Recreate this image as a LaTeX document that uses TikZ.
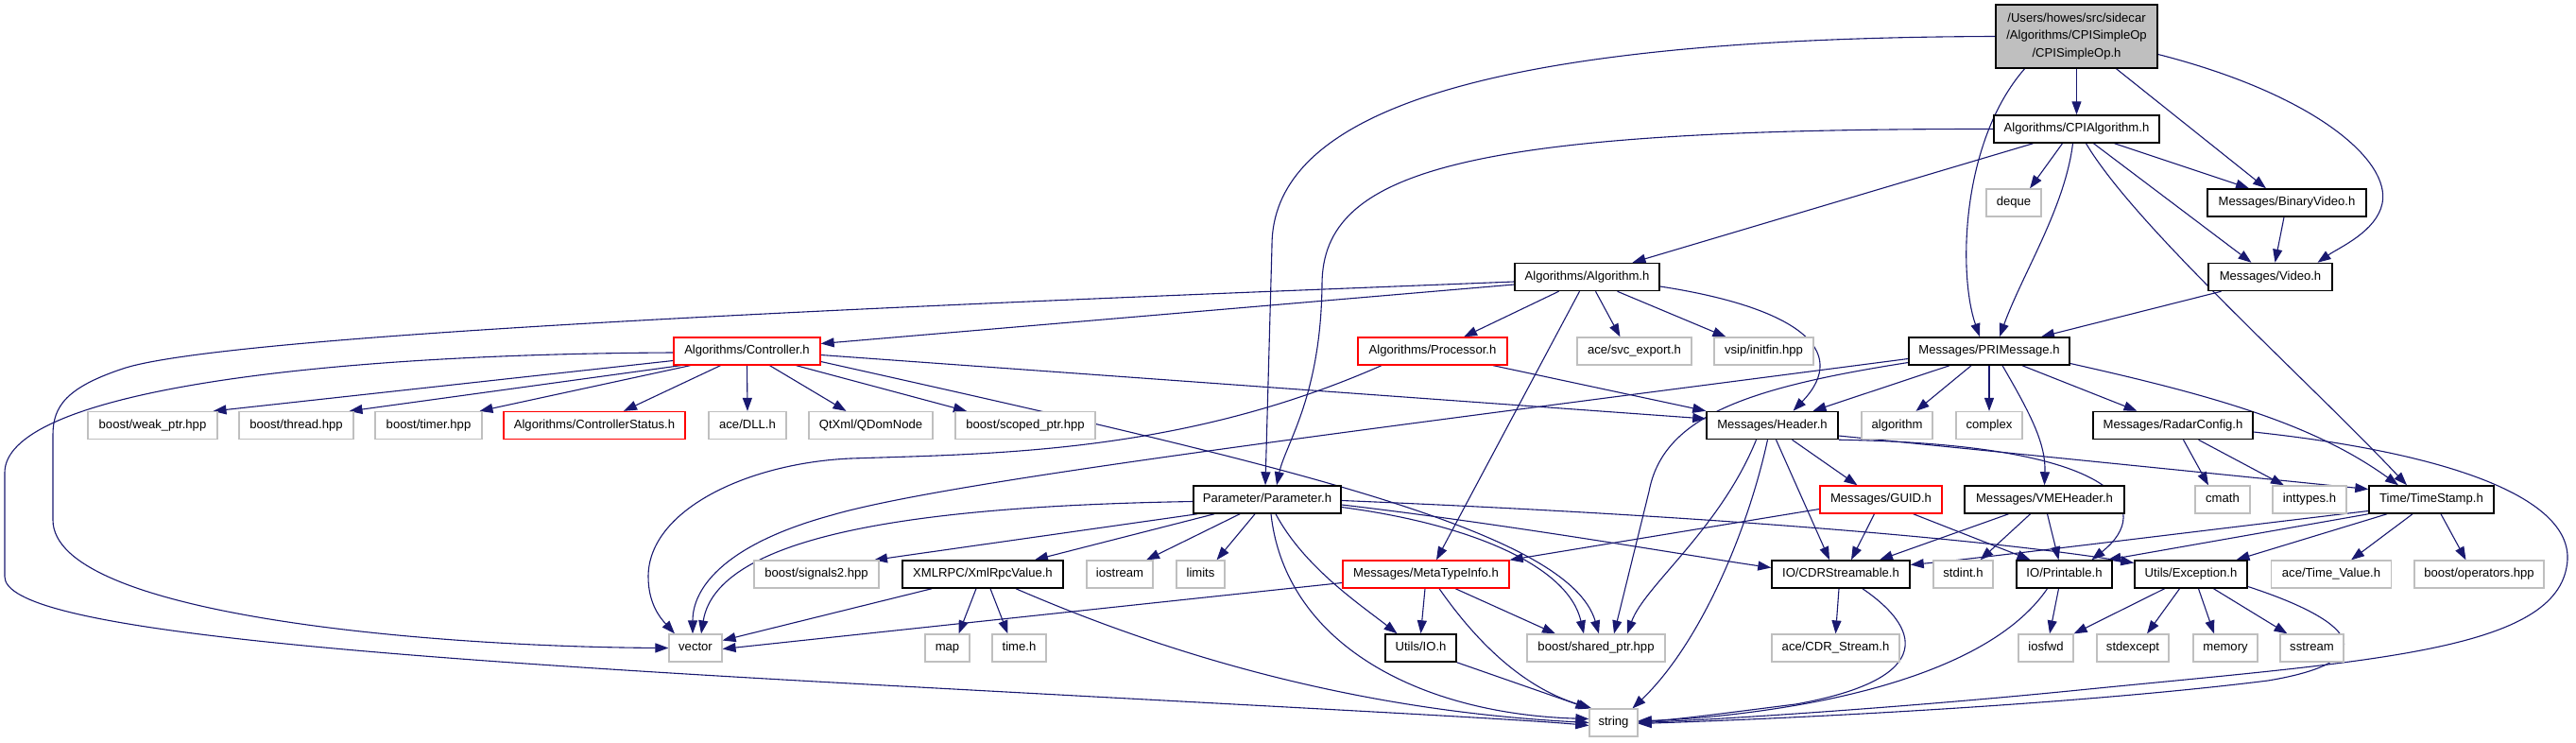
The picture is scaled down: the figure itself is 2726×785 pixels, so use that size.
\documentclass[tikz,border=0pt]{standalone}
\usepackage{fontspec}
\setmainfont{Liberation Sans}
\usetikzlibrary{arrows.meta}
\definecolor{edgecol}{HTML}{191970}
\definecolor{extgray}{HTML}{BFBFBF}
\definecolor{rootgray}{HTML}{BFBFBF}
\newcommand\nodefont{\fontsize{13.1}{18.3}\selectfont}
\pgfdeclarelayer{bg}
\pgfsetlayers{bg,main}
\tikzset{
  nd/.style={rectangle, inner sep=0pt, fill=white, font=\nodefont},
  sl/.style={nd, minimum height=29pt, text height=9.6pt, text depth=2.8pt},
  doc/.style={sl, draw=black, line width=1.5pt},
  ext/.style={sl, draw=extgray, line width=1.2pt},
  redn/.style={sl, draw=red, line width=1.3pt},
  bw/.style={minimum width=#1pt},
  e/.style={draw=edgecol, line width=1.1pt, -{Triangle[length=14pt,width=10pt]}}
}
\begin{document}
\begin{tikzpicture}[x=1pt,y=-1pt]
\path[use as bounding box] (0,0) rectangle (2726,785);
% nodes
\node[nd, draw=black, line width=1.5pt, fill=rootgray, minimum width=171pt, minimum height=67pt, align=center] (root) at (2197.5,38.5) {/Users/howes/src/sidecar\\/Algorithms/CPISimpleOp\\/CPISimpleOp.h};
\node[doc, bw=175] (cpialg) at (2197.5,136.5) {Algorithms/CPIAlgorithm.h};
\node[ext, bw=58] (deque) at (2131,214.5) {deque};
\node[doc, bw=168] (binvid) at (2420,214.5) {Messages/BinaryVideo.h};
\node[doc, bw=153] (alg) at (1679.5,293) {Algorithms/Algorithm.h};
\node[doc, bw=131] (video) at (2402.5,293) {Messages/Video.h};
\node[redn, bw=155] (ctrl) at (790.5,371.5) {Algorithms/Controller.h};
\node[redn, bw=158] (proc) at (1516,371.5) {Algorithms/Processor.h};
\node[ext, bw=121] (svc) at (1729.5,371.5) {ace/svc\_export.h};
\node[ext, bw=105] (initfin) at (1866.5,371.5) {vsip/initfin.hpp};
\node[doc, bw=170] (pri) at (2105,371.5) {Messages/PRIMessage.h};
\node[ext, bw=137] (weak) at (161.5,450) {boost/weak\_ptr.hpp};
\node[ext, bw=121] (thread) at (313.5,450) {boost/thread.hpp};
\node[ext, bw=113] (timer) at (453.5,450) {boost/timer.hpp};
\node[redn, bw=192] (cstat) at (629,450) {Algorithms/ControllerStatus.h};
\node[ext, bw=82] (dll) at (791,450) {ace/DLL.h};
\node[ext, bw=131] (qdom) at (921.5,450) {QtXml/QDomNode};
\node[ext, bw=148] (scoped) at (1085,450) {boost/scoped\_ptr.hpp};
\node[doc, bw=139] (header) at (1875.5,450) {Messages/Header.h};
\node[ext, bw=75] (algo) at (2007.5,450) {algorithm};
\node[ext, bw=70] (complex) at (2105,450) {complex};
\node[doc, bw=169] (radar) at (2299.5,450) {Messages/RadarConfig.h};
\node[doc, bw=156] (param) at (1341,528.5) {Parameter/Parameter.h};
\node[redn, bw=129] (guid) at (1990.5,528.5) {Messages/GUID.h};
\node[doc, bw=169] (vme) at (2163.5,528.5) {Messages/VMEHeader.h};
\node[ext, bw=58] (cmath) at (2352,528.5) {cmath};
\node[ext, bw=78] (inttypes) at (2444,528.5) {inttypes.h};
\node[doc, bw=132] (tstamp) at (2573,528.5) {Time/TimeStamp.h};
\node[ext, bw=132] (signals) at (864,607.5) {boost/signals2.hpp};
\node[doc, bw=170] (xml) at (1040,607.5) {XMLRPC/XmlRpcValue.h};
\node[ext, bw=70] (iostream) at (1185,607.5) {iostream};
\node[ext, bw=51] (limits) at (1270.5,607.5) {limits};
\node[redn, bw=176] (meta) at (1509,607.5) {Messages/MetaTypeInfo.h};
\node[doc, bw=146] (cdrs) at (1948,607.5) {IO/CDRStreamable.h};
\node[ext, bw=63] (stdint) at (2077.5,607.5) {stdint.h};
\node[doc, bw=101] (printable) at (2184.5,607.5) {IO/Printable.h};
\node[doc, bw=119] (exc) at (2318.5,607.5) {Utils/Exception.h};
\node[ext, bw=127] (tval) at (2467,607.5) {ace/Time\_Value.h};
\node[ext, bw=137] (ops) at (2623.5,607.5) {boost/operators.hpp};
\node[ext, bw=56] (vector) at (736,685.5) {vector};
\node[ext, bw=47] (map) at (1002.5,685.5) {map};
\node[ext, bw=57] (timeh) at (1078.5,685.5) {time.h};
\node[doc, bw=75] (io) at (1503.5,685.5) {Utils/IO.h};
\node[ext, bw=146] (shared) at (1689,685.5) {boost/shared\_ptr.hpp};
\node[ext, bw=135] (cdrstream) at (1942.5,685.5) {ace/CDR\_Stream.h};
\node[ext, bw=58] (iosfwd) at (2165,685.5) {iosfwd};
\node[ext, bw=76] (stdexcept) at (2257,685.5) {stdexcept};
\node[ext, bw=68] (memory) at (2355,685.5) {memory};
\node[ext, bw=67] (sstream) at (2446.5,685.5) {sstream};
\node[ext, bw=51] (string) at (1707.5,764.5) {string};
% edges
\begin{pgfonlayer}{bg}
\path[e] (root.south) -- (cpialg.north);
\path[e] (root.west) .. controls (1600,40) and (1346,110) .. (1346,260) -- ([xshift=-2pt]param.north);
\path[e] (cpialg.west) .. controls (1550,136) and (1400,180) .. (1399,300) .. controls (1398,420) and (1360,470) .. ([xshift=10pt]param.north);
\path[e] ([xshift=-55pt]root.south) .. controls (2075,150) and (2072,290) .. ([xshift=-10pt]pri.north);
\path[e] ([xshift=-4pt]cpialg.south) .. controls (2185,220) and (2140,290) .. ([xshift=11pt]pri.north);
\path[e] ([xshift=42pt]root.south) -- ([xshift=-22pt]binvid.north);
\path[e] ([yshift=-19pt]root.east) .. controls (2450,100) and (2530,170) .. (2521,215) .. controls (2515,245) and (2475,262) .. ([xshift=50pt]video.north);
\path[e] ([xshift=-15pt]cpialg.south) -- ([xshift=17pt]deque.north);
\path[e] ([xshift=40pt]cpialg.south) -- ([xshift=-40pt]binvid.north);
\path[e] ([xshift=18pt]cpialg.south) -- ([xshift=-20pt]video.north);
\path[e] ([xshift=10pt]cpialg.south) .. controls (2260,240) and (2440,400) .. ([xshift=-26pt]tstamp.north);
\path[e] ([xshift=-46pt]cpialg.south) -- ([xshift=48pt]alg.north);
\path[e] ([xshift=-3pt]binvid.south) -- ([xshift=5pt]video.north);
\path[e] ([xshift=-52pt]video.south) -- ([xshift=55pt]pri.north);
\path[e] ([yshift=-8pt]alg.west) -- ([yshift=8pt]ctrl.east);
\path[e] ([yshift=-5pt]alg.west) .. controls (1100,318) and (250,350) .. (130,390) .. controls (70,410) and (56,430) .. (56,460) -- (56,550) .. controls (56,650) and (450,684) .. (vector.west);
\path[e] ([yshift=-1.5pt]ctrl.west) .. controls (300,375) and (5,420) .. (5,500) -- (5,610) .. controls (5,660) and (300,690) .. (900,723) .. controls (1300,745) and (1600,760) .. ([yshift=-3pt]string.west);
\path[e] ([xshift=-30pt]alg.south) -- ([xshift=33pt]proc.north);
\path[e] ([xshift=-8pt]alg.south) -- ([xshift=11pt]meta.north);
\path[e] ([xshift=9pt]alg.south) -- ([xshift=-15pt]svc.north);
\path[e] ([xshift=32pt]alg.south) -- ([xshift=-40pt]initfin.north);
\path[e] ([yshift=-10pt]alg.east) .. controls (1900,325) and (1960,370) .. ([xshift=22pt]header.north);
\path[e] ([yshift=-10pt]ctrl.west) -- ([xshift=64pt]weak.north);
\path[e] ([xshift=-70pt]ctrl.south) -- ([xshift=56pt]thread.north);
\path[e] ([xshift=-60pt]ctrl.south) -- ([xshift=54pt]timer.north);
\path[e] ([xshift=-28pt]ctrl.south) -- ([xshift=31pt]cstat.north);
\path[e] (ctrl.south) -- (dll.north);
\path[e] ([xshift=24pt]ctrl.south) -- ([xshift=-26pt]qdom.north);
\path[e] ([xshift=52pt]ctrl.south) -- ([xshift=-62pt]scoped.north);
\path[e] ([yshift=-4pt]ctrl.east) -- ([yshift=7pt]header.west);
\path[e] ([yshift=-11pt]ctrl.east) .. controls (1350,490) and (1660,560) .. ([xshift=3pt]shared.north);
\path[e] ([xshift=-54pt]proc.south) .. controls (1250,480) and (1050,480) .. (900,485) .. controls (790,490) and (686,540) .. (686,610) .. controls (686,640) and (700,655) .. ([xshift=-22pt]vector.north);
\path[e] ([xshift=64pt]proc.south) -- (header.north west);
\path[e] ([yshift=-8pt]pri.west) .. controls (1400,460) and (1000,510) .. (880,545) .. controls (770,575) and (733,620) .. ([xshift=-3pt]vector.north);
\path[e] ([yshift=-2pt]param.west) .. controls (1000,535) and (760,560) .. ([xshift=6pt]vector.north);
\path[e] ([xshift=-54pt]xml.south) -- ([yshift=8pt]vector.east);
\path[e] ([yshift=-9pt]meta.west) -- ([yshift=-1pt]vector.east);
\path[e] ([xshift=-74pt]param.south) -- ([xshift=61pt]signals.north);
\path[e] ([xshift=-56pt]param.south) -- ([xshift=55pt]xml.north);
\path[e] ([xshift=-29pt]param.south) -- ([xshift=28pt]iostream.north);
\path[e] ([xshift=-13pt]param.south) -- ([xshift=17pt]limits.north);
\path[e] ([xshift=9pt]param.south) .. controls (1380,600) and (1440,640) .. ([xshift=-25pt]io.north);
\path[e] ([xshift=4pt]param.south) .. controls (1360,680) and (1500,755) .. ([yshift=4pt]string.west);
\path[e] ([yshift=-8pt]param.east) .. controls (1560,555) and (1660,600) .. ([xshift=-13pt]shared.north);
\path[e] ([yshift=-5.5pt]param.east) .. controls (1600,555) and (1800,590) .. ([yshift=7pt]cdrs.west);
\path[e] ([yshift=-1pt]param.east) .. controls (1800,545) and (2100,570) .. ([yshift=12pt]exc.west);
\path[e] ([xshift=21pt]header.south) -- ([xshift=-25pt]guid.north);
\path[e] ([xshift=4pt]header.south) -- ([xshift=-12pt]cdrs.north);
\path[e] ([xshift=-17pt]header.south) .. controls (1820,560) and (1740,620) .. ([xshift=33pt]shared.north);
\path[e] ([xshift=-5pt]header.south) .. controls (1850,560) and (1800,680) .. ([xshift=20pt]string.north);
\path[e] ([yshift=-11pt]header.east) -- ([yshift=11pt]tstamp.west);
\path[e] (header.south east) .. controls (2250,470) and (2280,540) .. ([xshift=29pt]printable.north);
\path[e] ([xshift=-42pt]pri.south) -- ([xshift=43pt]header.north);
\path[e] ([xshift=-19pt]pri.south) -- ([xshift=20pt]algo.north);
\path[e] (pri.south) -- (complex.north);
\path[e] ([xshift=14pt]pri.south) .. controls (2150,440) and (2165,470) .. (vme.north);
\path[e] ([xshift=35pt]pri.south) -- ([xshift=-38pt]radar.north);
\path[e] ([yshift=-13pt]pri.east) .. controls (2350,420) and (2450,450) .. ([xshift=-35pt]tstamp.north);
\path[e] ([yshift=-12pt]pri.west) .. controls (1850,410) and (1760,440) .. (1745,520) -- ([xshift=19pt]shared.north);
\path[e] ([xshift=11pt]radar.south) -- ([xshift=-15pt]cmath.north);
\path[e] ([xshift=27pt]radar.south) -- ([xshift=-27pt]inttypes.north);
\path[e] ([yshift=-7pt]radar.east) .. controls (2600,480) and (2730,530) .. (2716,600) .. controls (2700,690) and (2500,700) .. (2200,730) .. controls (2000,750) and (1800,762) .. (string.east);
\path[e] ([yshift=-10pt]guid.west) -- (meta.north east);
\path[e] ([xshift=-7pt]guid.south) -- ([xshift=11pt]cdrs.north);
\path[e] ([xshift=34pt]guid.south) -- ([xshift=-36pt]printable.north);
\path[e] ([xshift=-38pt]vme.south) -- ([xshift=41pt]cdrs.north);
\path[e] ([xshift=-15pt]vme.south) -- ([xshift=18pt]stdint.north);
\path[e] ([xshift=3pt]vme.south) -- ([xshift=-6pt]printable.north);
\path[e] ([yshift=-12pt]tstamp.west) .. controls (2300,565) and (2100,590) .. ([yshift=10pt]cdrs.east);
\path[e] (tstamp.south west) -- ([xshift=46pt]printable.north);
\path[e] ([xshift=-47pt]tstamp.south) -- ([xshift=48pt]exc.north);
\path[e] ([xshift=-20pt]tstamp.south) -- ([xshift=21pt]tval.north);
\path[e] ([xshift=10pt]tstamp.south) -- ([xshift=-14pt]ops.north);
\path[e] ([xshift=-2pt]cdrs.south) -- (cdrstream.north);
\path[e] ([xshift=23pt]cdrs.south) .. controls (2040,670) and (2040,720) .. (1900,745) .. controls (1820,755) and (1770,762) .. ([yshift=2pt]string.east);
\path[e] ([xshift=-6pt]printable.south) -- ([xshift=4pt]iosfwd.north);
\path[e] ([xshift=-18pt]printable.south) .. controls (2100,720) and (1900,755) .. ([yshift=1pt]string.east);
\path[e] ([xshift=-28pt]exc.south) -- (iosfwd.north east);
\path[e] ([xshift=-12pt]exc.south) -- ([xshift=15pt]stdexcept.north);
\path[e] ([xshift=8pt]exc.south) -- ([xshift=-12pt]memory.north);
\path[e] ([xshift=24pt]exc.south) -- ([xshift=-26pt]sstream.north);
\path[e] ([yshift=-13pt]exc.east) .. controls (2500,660) and (2520,700) .. (2400,720) .. controls (2200,745) and (1900,760) .. ([yshift=-1pt]string.east);
\path[e] ([xshift=-1pt]meta.south) -- (io.north);
\path[e] ([xshift=31pt]meta.south) -- ([xshift=-43pt]shared.north);
\path[e] ([xshift=14pt]meta.south) .. controls (1570,690) and (1620,730) .. ([xshift=3pt]string.north west);
\path[e] (io.south east) -- (string.north west);
\path[e] ([xshift=-7pt]xml.south) -- ([xshift=12pt]map.north);
\path[e] ([xshift=8pt]xml.south) -- ([xshift=-12pt]timeh.north);
\path[e] ([xshift=35pt]xml.south) .. controls (1300,720) and (1500,755) .. (string.west);
\end{pgfonlayer}
\end{tikzpicture}
\end{document}
